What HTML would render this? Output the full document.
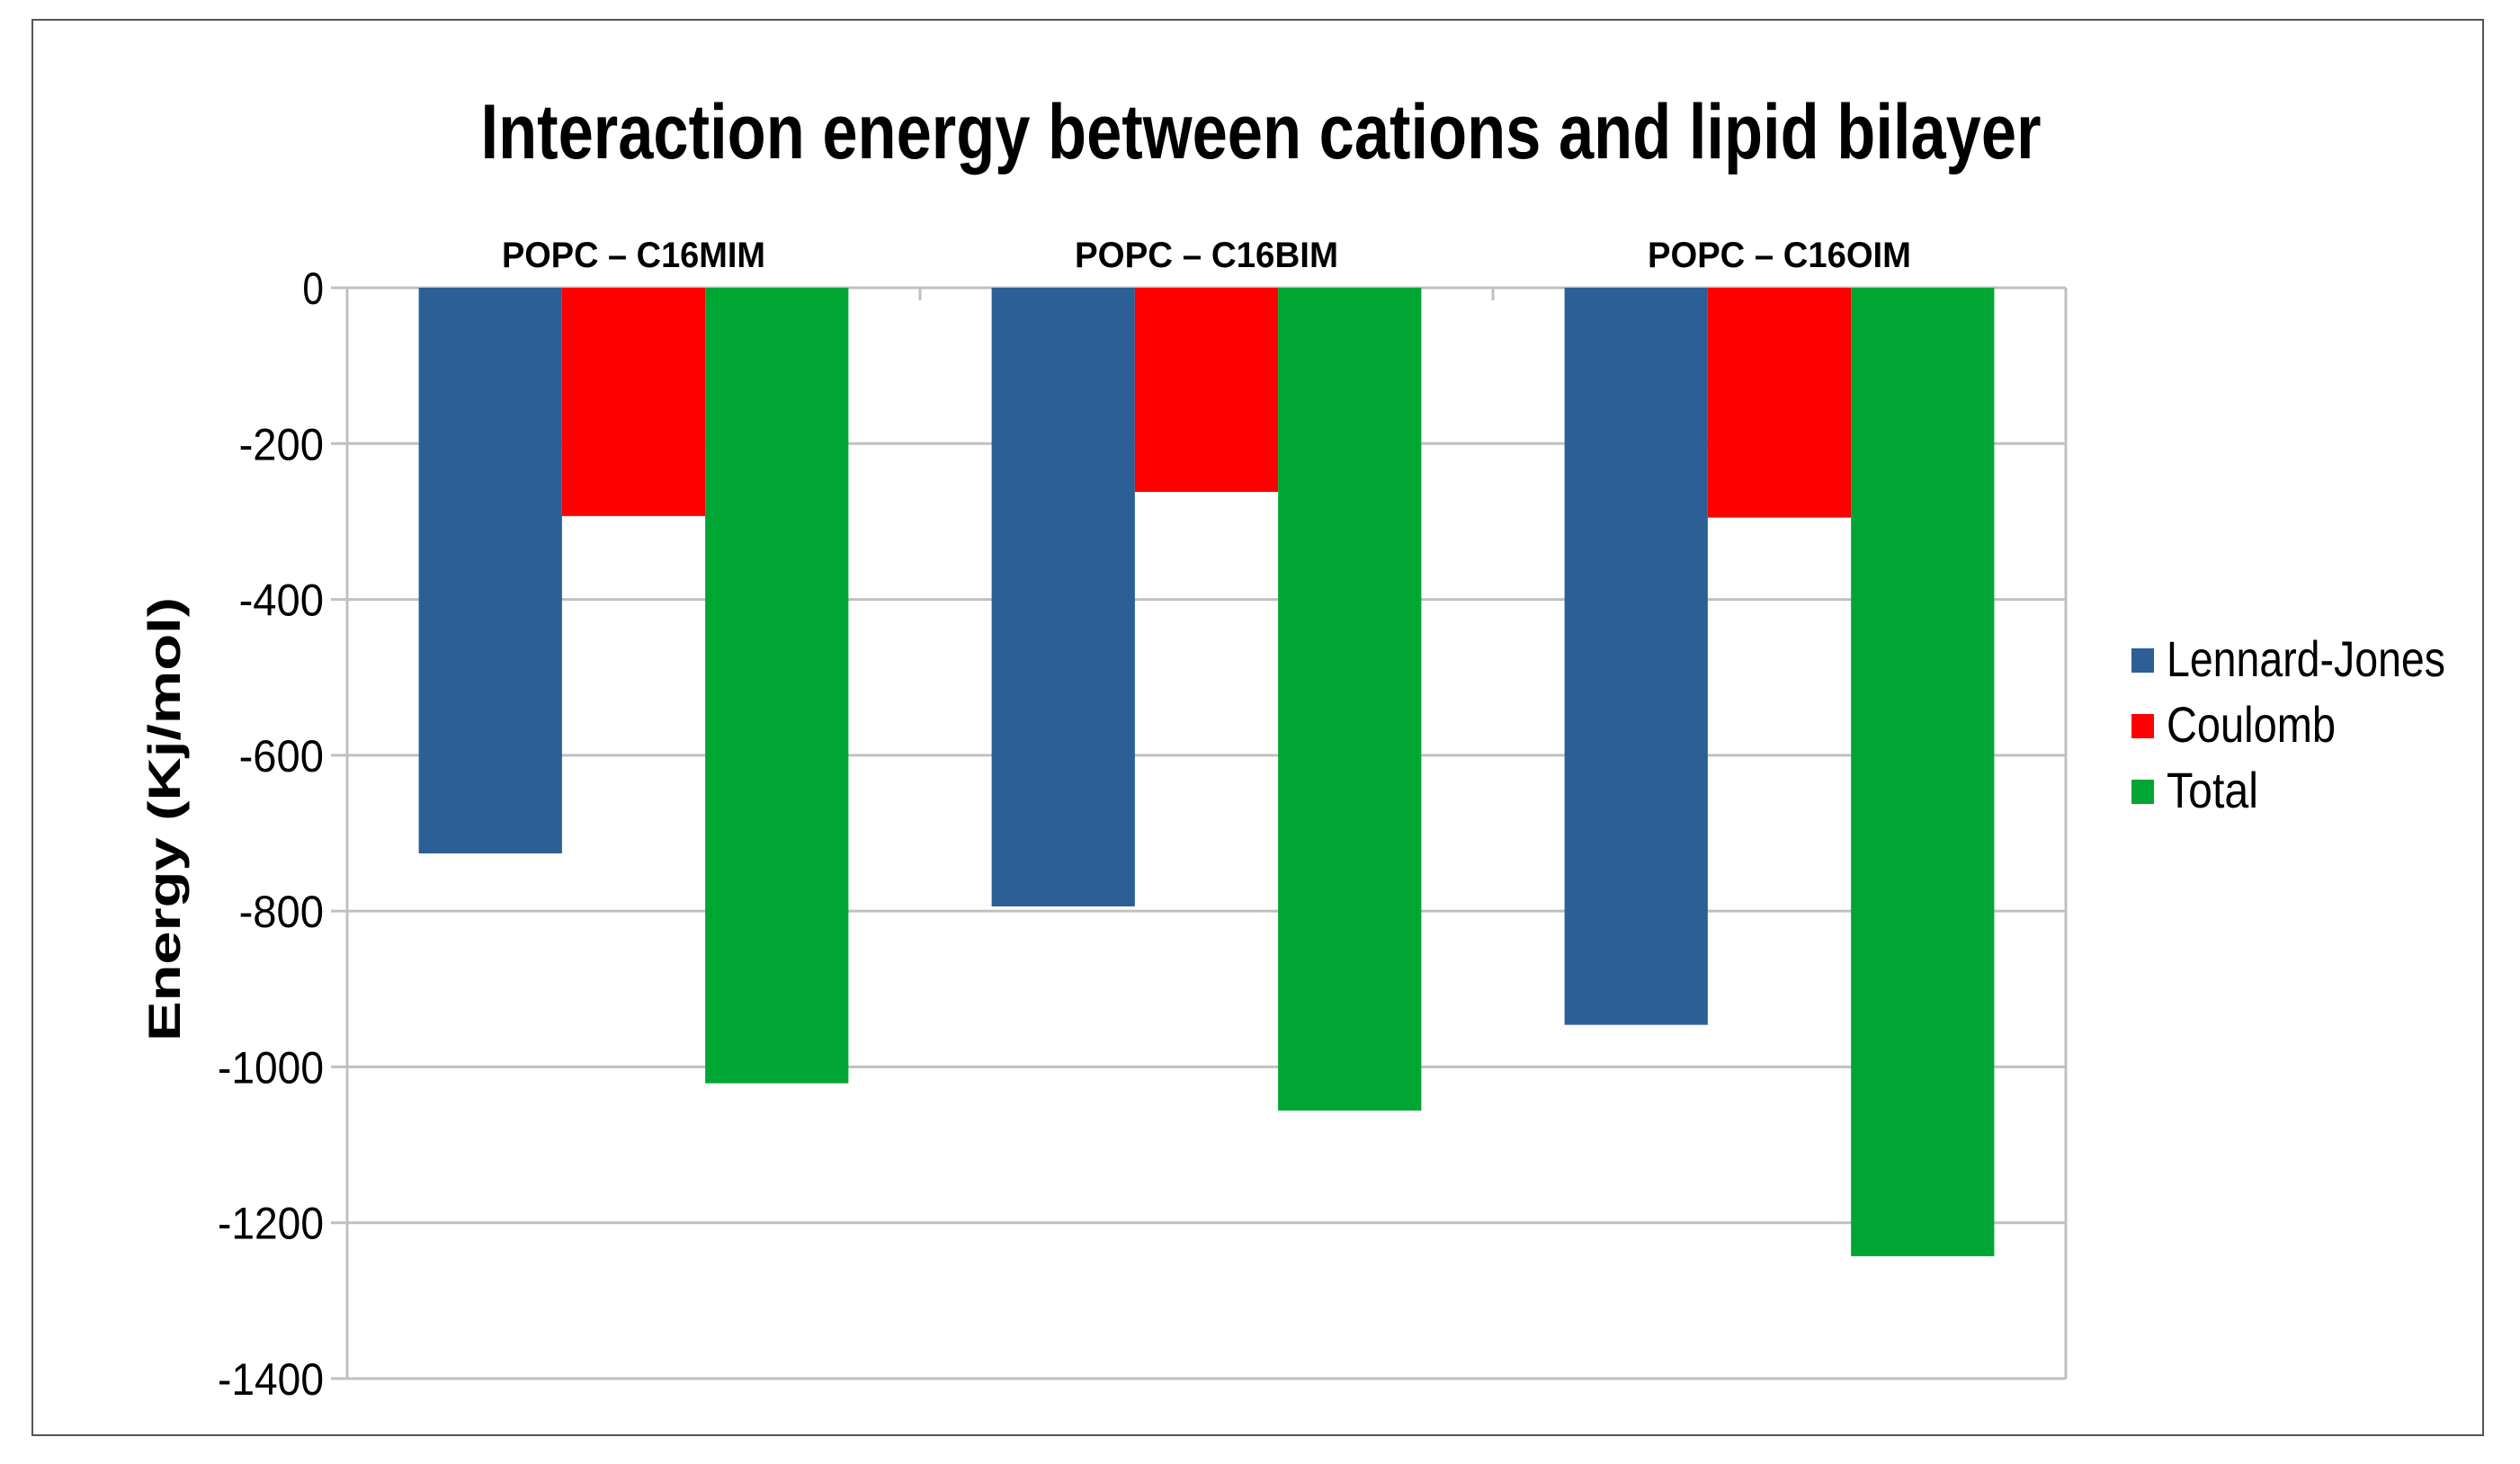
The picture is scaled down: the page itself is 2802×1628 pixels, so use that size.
<!DOCTYPE html>
<html><head><meta charset="utf-8"><style>
body{margin:0;background:#fff}
svg{display:block}
text{font-family:"Liberation Sans Narrow","Liberation Sans",sans-serif}
</style></head><body>
<svg id="chart" width="2802" height="1628" viewBox="0 0 2802 1628" xmlns="http://www.w3.org/2000/svg">
<rect x="36" y="22" width="2725" height="1574" fill="#fff" stroke="#555" stroke-width="2"/>
<text x="1402" y="176" text-anchor="middle" font-size="86" font-weight="bold" textLength="1735" lengthAdjust="spacingAndGlyphs">Interaction energy between cations and lipid bilayer</text>
<text transform="translate(200,911) rotate(-90)" text-anchor="middle" font-size="50" font-weight="bold" style="font-family:'Liberation Sans',sans-serif" textLength="494" lengthAdjust="spacingAndGlyphs">Energy (Kj/mol)</text>
<g id="grid"></g><g id="bars"></g><g id="labels"></g><g id="legend"></g>
</svg>
<script>
const categories=["POPC – C16MIM","POPC – C16BIM","POPC – C16OIM"];
const seriesNames=["Lennard-Jones","Coulomb","Total"];
const ljValues=[-726,-794,-946];
const coulombValues=[-293,-262,-295];
const totalValues=[-1021,-1056,-1243];
const yTicks=[0,-200,-400,-600,-800,-1000,-1200,-1400];
const colors=["#2b5f96","#ff0000","#00a633"];
const legendWidths=[310,188,102];
const NS="http://www.w3.org/2000/svg";
const L=386,R=2297,T=320,B=1533,yMin=-1400,yMax=0;
function y(v){return T+(yMax-v)/(yMax-yMin)*(B-T);}
const cw=(R-L)/categories.length;
function mk(tag,attrs,parent,txt){const e=document.createElementNS(NS,tag);for(const k in attrs)e.setAttribute(k,attrs[k]);if(txt!==undefined)e.textContent=txt;document.getElementById(parent).appendChild(e);return e;}
yTicks.forEach(t=>{
 const g=mk('line',{x1:L-18,x2:R,y1:y(t),y2:y(t),stroke:'#c0c0c0','stroke-width':3},'grid');
 
 
 const s=String(t);
 const tx=mk('text',{x:L-26,y:y(t)+18,'text-anchor':'end','font-size':50,textLength:s.length*23.6,lengthAdjust:'spacingAndGlyphs'},'labels',s);
 
 
});
const la=mk('line',{x1:L,x2:L,y1:T,y2:B,stroke:'#c0c0c0','stroke-width':3},'grid');


const ra=mk('line',{x1:R,x2:R,y1:T,y2:B,stroke:'#c0c0c0','stroke-width':3},'grid');


for(let i=1;i<categories.length;i++){const tk=mk('line',{x1:L+cw*i,x2:L+cw*i,y1:T,y2:T+14,stroke:'#c0c0c0','stroke-width':3},'grid');
 
 }
const series=[ljValues,coulombValues,totalValues];
const bw=cw*0.25;
categories.forEach((c,i)=>{
 const x0=L+cw*i+cw*0.125;
 series.forEach((s,j)=>{
  const v=s[i];
  const r=mk('rect',{x:x0+bw*j,y:Math.min(y(0),y(v)),width:bw,height:Math.abs(y(v)-y(0)),fill:colors[j]},'bars');
  
  
 });
 const cl=mk('text',{x:L+cw*i+cw/2,y:297,'text-anchor':'middle','font-size':40,'font-weight':'bold',textLength:293,lengthAdjust:'spacingAndGlyphs'},'labels',c);
 
 
});
seriesNames.forEach((n,j)=>{
 const cy=733+j*73;
 const sw=mk('rect',{x:2370,y:cy-12,width:25,height:27,fill:colors[j]},'legend');
 
 
 const t=mk('text',{x:2409,y:cy+19,'font-size':56,textLength:legendWidths[j],lengthAdjust:'spacingAndGlyphs'},'legend',n);
 
 
});
</script>
</body></html>
